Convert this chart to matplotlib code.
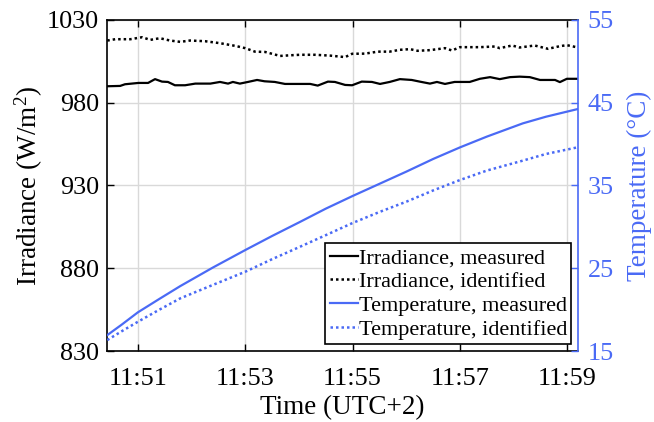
import matplotlib
matplotlib.use("Agg")
import matplotlib.pyplot as plt

plt.rcParams['font.family'] = ['Liberation Serif', 'DejaVu Serif']
plt.rcParams['mathtext.fontset'] = 'custom'
plt.rcParams['mathtext.rm'] = 'Liberation Serif'
plt.rcParams['mathtext.it'] = 'Liberation Serif:italic'

# time in minutes after 11:50
irr_meas_t = [0.43, 0.67, 0.76, 1.01, 1.19, 1.32, 1.45, 1.56, 1.69, 1.88, 2.07, 2.35, 2.53, 2.68,
              2.77, 2.90, 3.05, 3.22, 3.36, 3.55, 3.74, 4.21, 4.35, 4.54, 4.67, 4.86, 4.99, 5.17,
              5.36, 5.51, 5.69, 5.88, 6.10, 6.25, 6.44, 6.57, 6.72, 6.90, 7.18, 7.37, 7.56, 7.74,
              7.93, 8.11, 8.30, 8.49, 8.77, 8.86, 8.99, 9.20]
irr_meas = [989.9, 990.1, 991.1, 991.9, 991.9, 994.2, 992.7, 992.5, 990.5, 990.5, 991.5, 991.5,
            992.5, 991.5, 992.5, 991.5, 992.5, 993.7, 992.9, 992.5, 991.3, 991.3, 990.3, 992.7,
            992.5, 990.7, 990.5, 992.7, 992.5, 991.3, 992.5, 994.2, 993.7, 992.7, 991.5, 992.5,
            991.3, 992.5, 992.5, 994.4, 995.4, 994.2, 995.4, 995.7, 995.4, 993.7, 993.7, 992.4,
            994.4, 994.4]

irr_id_t = [0.43, 0.58, 0.86, 1.08, 1.23, 1.41, 1.60, 1.79, 1.97, 2.25, 2.53, 2.81, 3.00, 3.18,
            3.37, 3.65, 3.84, 4.02, 4.30, 4.58, 4.86, 4.99, 5.23, 5.47, 5.69, 5.88, 6.07, 6.21,
            6.44, 6.72, 6.85, 7.00, 7.37, 7.65, 7.74, 7.97, 8.11, 8.39, 8.64, 8.86, 8.99, 9.20]
irr_id = [1017.5, 1018.3, 1018.3, 1019.5, 1017.9, 1018.9, 1017.5, 1016.7, 1017.5, 1017.1, 1015.9,
          1014.3, 1012.9, 1010.8, 1010.6, 1008.2, 1008.6, 1008.9, 1008.9, 1008.4, 1007.5, 1009.5,
          1009.6, 1010.8, 1010.8, 1011.9, 1012.3, 1011.3, 1011.7, 1012.9, 1011.5, 1013.5, 1013.5,
          1013.9, 1012.9, 1014.5, 1013.3, 1014.5, 1012.5, 1014.1, 1014.7, 1013.3]

temp_meas_t = [0.43, 0.7, 1.0, 1.4, 1.79, 2.4, 3.0, 3.5, 4.02, 4.5, 5.0, 5.5, 6.0, 6.5, 7.0,
               7.5, 8.17, 8.6, 9.2]
temp_meas = [16.93, 18.2, 19.68, 21.3, 22.85, 25.1, 27.2, 28.9, 30.6, 32.2, 33.73, 35.2, 36.67,
             38.2, 39.6, 40.9, 42.5, 43.3, 44.24]

temp_id_t = [0.43, 0.7, 1.0, 1.4, 1.79, 2.4, 3.0, 3.5, 4.02, 4.5, 5.0, 5.5, 6.0, 6.5, 7.0,
             7.5, 8.17, 8.6, 9.2]
temp_id = [16.33, 17.4, 18.54, 20.0, 21.37, 23.0, 24.58, 26.1, 27.6, 29.0, 30.47, 31.8, 33.04,
           34.4, 35.66, 36.8, 38.0, 38.8, 39.62]

xticks = [1, 3, 5, 7, 9]
xticklabels = ['11:51', '11:53', '11:55', '11:57', '11:59']
yticks_left = [830, 880, 930, 980, 1030]
yticks_right = [15, 25, 35, 45, 55]

blue = '#4a6af5'

fig = plt.figure(figsize=(6.54, 4.22), dpi=100)
ax = fig.add_axes([0.164, 0.168, 0.720, 0.785])
ax2 = ax.twinx()

l1, = ax.plot(irr_meas_t, irr_meas, color='black', lw=1.6, label='Irradiance, measured')
l2, = ax.plot(irr_id_t, irr_id, color='black', lw=1.8, ls=(0, (1, 1.2)), label='Irradiance, identified')
l3, = ax2.plot(temp_meas_t, temp_meas, color=blue, lw=1.6, label='Temperature, measured')
l4, = ax2.plot(temp_id_t, temp_id, color=blue, lw=1.8, ls=(0, (1, 1.2)), label='Temperature, identified')

ax.set_xlim(0.43, 9.2)
ax.set_ylim(830, 1030)
ax2.set_ylim(15, 55)
ax.set_xticks(xticks)
ax.set_xticklabels(xticklabels)
ax.set_yticks(yticks_left)
ax2.set_yticks(yticks_right)

ax.grid(True, color='#d9d9d9', lw=1.0)
ax.set_axisbelow(True)

ax.tick_params(axis='both', direction='in', labelsize=18.8, length=5, width=1, top=True, right=False)
ax.tick_params(axis='x', pad=12)
ax.tick_params(axis='y', pad=6)
ax2.tick_params(axis='y', direction='in', labelsize=18.8, length=5, width=1, colors=blue, pad=7)

for s in ['left', 'bottom', 'top']:
    ax.spines[s].set_linewidth(1.2)
ax2.spines['right'].set_color(blue)
ax2.spines['right'].set_linewidth(1.2)
ax2.spines['left'].set_visible(False)
ax.spines['right'].set_visible(False)
ax2.spines['top'].set_visible(False)
ax2.spines['bottom'].set_visible(False)

ax.set_xlabel('Time (UTC+2)', fontsize=19.5, labelpad=4)
ax.set_ylabel(r'Irradiance (W/m$^\mathrm{2}$)', fontsize=19.5, labelpad=1)
ax2.set_ylabel('Temperature (°C)', fontsize=19.5, color=blue, labelpad=9)

leg = ax2.legend(handles=[l1, l2, l3, l4], loc='lower right', fontsize=16, frameon=True,
                 fancybox=False, edgecolor='black', framealpha=1, borderpad=0.2,
                 handlelength=1.26, handletextpad=0.05, labelspacing=0.15, borderaxespad=0.3)
leg.get_frame().set_linewidth(1.2)

fig.savefig('out.png', dpi=100)
